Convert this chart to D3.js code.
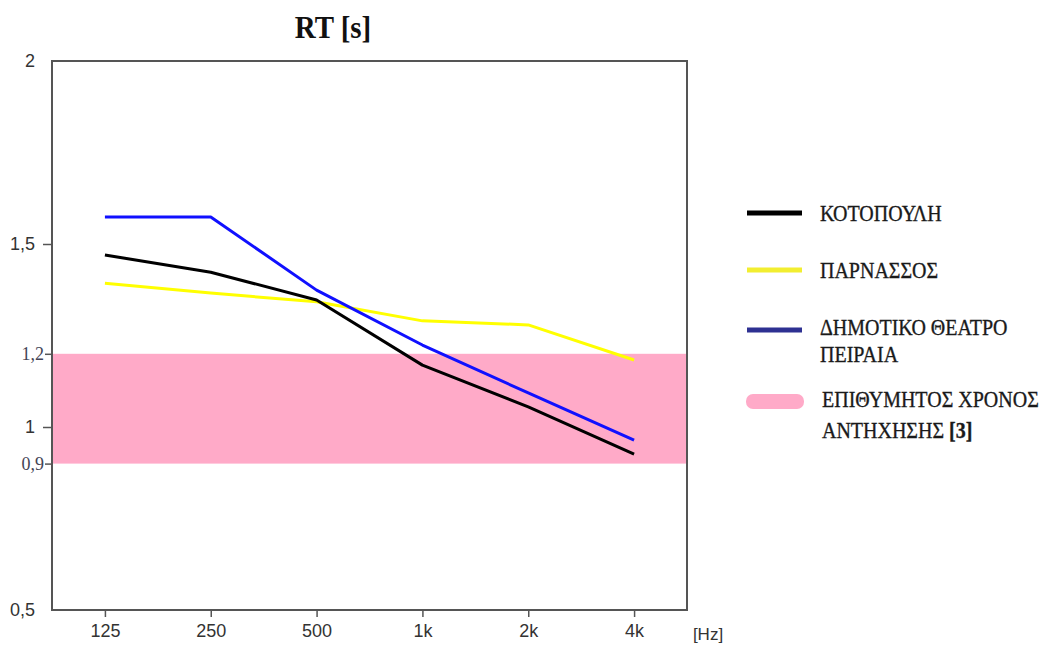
<!DOCTYPE html>
<html>
<head>
<meta charset="utf-8">
<script src="https://cdn.jsdelivr.net/npm/d3@7"></script>
<style>
  body { margin: 0; background: #fff; }
  svg { display: block; }
</style>
</head>
<body>
<div id="chart"></div>
<script>
const frequencies = ['125', '250', '500', '1k', '2k', '4k']
const kotopouli = [1.47, 1.423, 1.347, 1.169, 1.055, 0.926]
const parnassos = [1.393, 1.366, 1.342, 1.29, 1.279, 1.183]
const peiraia = [1.574, 1.574, 1.374, 1.224, 1.093, 0.964]
const targetBand = [0.9, 1.2]
const yMainTicks = [0.5, 1, 1.5, 2]
const yExtraTicks = [0.9, 1.2]
const yTickLabels = { 0.5: '0,5', 0.9: '0,9', 1: '1', 1.2: '1,2', 1.5: '1,5', 2: '2' }

const seriesNames = ['ΚΟΤΟΠΟΥΛΗ', 'ΠΑΡΝΑΣΣΟΣ', 'ΔΗΜΟΤΙΚΟ ΘΕΑΤΡΟ|ΠΕΙΡΑΙΑ']
const bandName = 'ΕΠΙΘΥΜΗΤΟΣ ΧΡΟΝΟΣ|ΑΝΤΗΧΗΣΗΣ '

const width = 1046
const height = 645
const plotLeft = 52, plotRight = 687, plotTop = 61, plotBottom = 610

const lineColors = ['#000000', '#ffff00', '#1010ff']
const legendColors = ['#000000', '#f2ee30', '#2e3192']
const pink = '#ffaac8'

const svg = d3.select('#chart')
  .append('svg')
  .attr('width', width)
  .attr('height', height)

const x = d3.scalePoint()
  .domain(frequencies)
  .range([plotLeft, plotRight])
  .padding(0.5)

const y = d3.scaleLinear()
  .domain([0.5, 2])
  .range([plotBottom, plotTop])

// pink target band
svg.append('rect')
  .attr('x', plotLeft)
  .attr('width', plotRight - plotLeft)
  .attr('y', y(targetBand[1]))
  .attr('height', y(targetBand[0]) - y(targetBand[1]))
  .attr('fill', pink)

// frame
svg.append('rect')
  .attr('x', plotLeft)
  .attr('y', plotTop)
  .attr('width', plotRight - plotLeft)
  .attr('height', plotBottom - plotTop)
  .attr('fill', 'none')
  .attr('stroke', '#555')
  .attr('stroke-width', 2)

const line = d3.line()
  .x((d, i) => x(frequencies[i]))
  .y(d => y(d))

const allSeries = [kotopouli, parnassos, peiraia]
// draw order: yellow under, then black, then blue
;[1, 0, 2].forEach(k => {
  svg.append('path')
    .datum(allSeries[k])
    .attr('d', line)
    .attr('fill', 'none')
    .attr('stroke', lineColors[k])
    .attr('stroke-width', 3)
    .attr('stroke-linejoin', 'round')
})

// axes
const fontSans = 'Liberation Sans, Arial, sans-serif'
const fontSerif = 'Liberation Serif, Times New Roman, serif'

const xAxis = svg.append('g')
  .attr('transform', `translate(0,${plotBottom})`)
  .call(d3.axisBottom(x).tickSize(7).tickPadding(7).tickSizeOuter(0))
xAxis.select('.domain').remove()
xAxis.selectAll('.tick line').attr('stroke', '#555').attr('stroke-width', 1.5)
xAxis.selectAll('.tick text')
  .attr('font-family', fontSans)
  .attr('font-size', 18)
  .attr('fill', '#333')

svg.append('text')
  .attr('x', 708)
  .attr('y', 640)
  .attr('text-anchor', 'middle')
  .attr('font-family', fontSans)
  .attr('font-size', 17)
  .attr('fill', '#333')
  .text('[Hz]')

const yAxis = svg.append('g')
  .attr('transform', `translate(${plotLeft},0)`)
  .call(d3.axisLeft(y).tickValues(yMainTicks).tickSize(9).tickPadding(8)
    .tickFormat(d => yTickLabels[d]))
yAxis.select('.domain').remove()
yAxis.selectAll('.tick line')
  .attr('stroke', '#555')
  .attr('stroke-width', 1.5)
  .attr('opacity', d => (d === 0.5 || d === 2) ? 0 : 1)
yAxis.selectAll('.tick text')
  .attr('font-family', fontSans)
  .attr('font-size', 18)
  .attr('fill', '#333')

const yAxis2 = svg.append('g')
  .attr('transform', `translate(${plotLeft},0)`)
  .call(d3.axisLeft(y).tickValues(yExtraTicks).tickSize(7).tickPadding(1)
    .tickFormat(d => yTickLabels[d]))
yAxis2.select('.domain').remove()
yAxis2.selectAll('.tick line').attr('stroke', '#555').attr('stroke-width', 1.5)
yAxis2.selectAll('.tick text')
  .attr('font-family', fontSerif)
  .attr('font-size', 18)
  .attr('fill', '#445')

// title
svg.append('text')
  .attr('transform', 'translate(333,38) scale(1,1.1)')
  .attr('text-anchor', 'middle')
  .attr('font-family', fontSerif)
  .attr('font-weight', 'bold')
  .attr('font-size', 29)
  .attr('fill', '#111')
  .text('RT [s]')

// legend
const legendLineY = [213, 270, 330]
const legendTextY = [221, 278, 335]
const legend = svg.append('g')

function legendText(xPos, yPos, label, bold) {
  const t = legend.append('text')
    .attr('transform', `translate(${xPos},${yPos}) scale(1,1.12)`)
    .attr('font-family', fontSerif)
    .attr('font-size', 20)
    .attr('fill', '#1a1a1a')
    .attr('stroke', '#1a1a1a')
    .attr('stroke-width', 0.3)
  t.append('tspan').text(label)
  if (bold) t.append('tspan').attr('font-weight', 'bold').text(bold)
  return t
}

seriesNames.forEach((name, i) => {
  legend.append('line')
    .attr('x1', 747)
    .attr('x2', 802)
    .attr('y1', legendLineY[i])
    .attr('y2', legendLineY[i])
    .attr('stroke', legendColors[i])
    .attr('stroke-width', 5)
  name.split('|').forEach((part, j) => {
    legendText(820, legendTextY[i] + j * 27, part)
  })
})

legend.append('rect')
  .attr('x', 746)
  .attr('y', 394)
  .attr('width', 58)
  .attr('height', 15)
  .attr('rx', 7)
  .attr('fill', pink)

const bandParts = bandName.split('|')
legendText(822, 407, bandParts[0])
legendText(822, 438, bandParts[1], '[3]')
</script>
</body>
</html>
